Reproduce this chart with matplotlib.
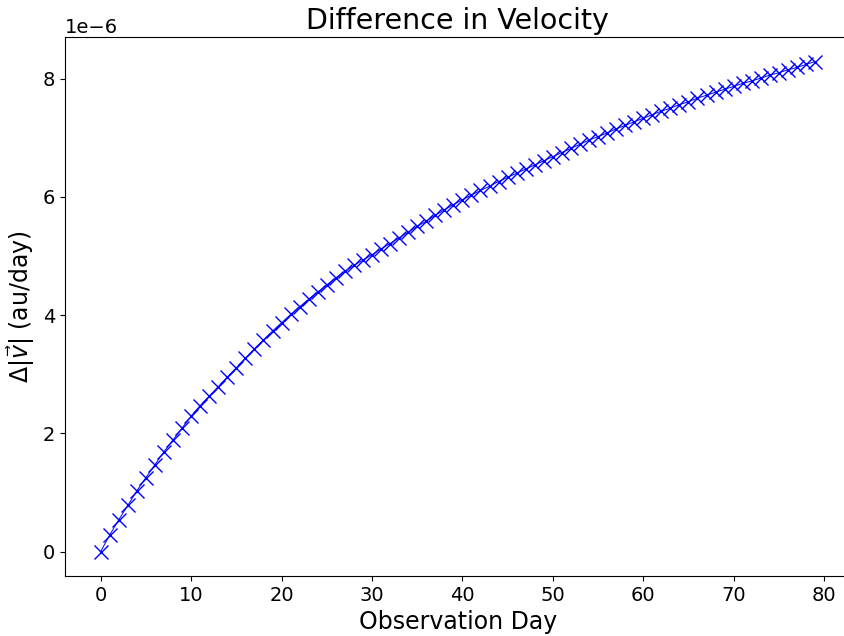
import matplotlib
matplotlib.use("Agg")
import matplotlib.pyplot as plt

# observation day index
days = list(range(80))

# |v| difference in units of 1e-6 au/day
dv = [0.00, 0.28, 0.54, 0.78, 1.03, 1.25, 1.47, 1.69, 1.89, 2.09,
      2.29, 2.47, 2.63, 2.79, 2.95, 3.11, 3.27, 3.43, 3.58, 3.73,
      3.87, 4.01, 4.14, 4.27, 4.39, 4.51, 4.63, 4.74, 4.84, 4.93,
      5.02, 5.12, 5.21, 5.31, 5.40, 5.50, 5.59, 5.69, 5.78, 5.87,
      5.95, 6.03, 6.11, 6.18, 6.26, 6.33, 6.40, 6.47, 6.54, 6.61,
      6.68, 6.75, 6.82, 6.89, 6.96, 7.02, 7.08, 7.15, 7.21, 7.27,
      7.33, 7.39, 7.45, 7.50, 7.56, 7.61, 7.67, 7.72, 7.77, 7.82,
      7.87, 7.92, 7.96, 8.01, 8.06, 8.10, 8.15, 8.19, 8.24, 8.29]
dv = [v * 1e-6 for v in dv]

fig = plt.figure(figsize=(8.44, 6.36), dpi=100)
ax = fig.add_axes([0.077, 0.0943, 0.931, 0.8475])

ax.plot(days, dv, marker="x", color="blue", markersize=10, linewidth=0.7)

ax.set_title("Difference in Velocity", fontsize=20.5)
ax.set_xlabel("Observation Day", fontsize=17)
ax.set_ylabel(r"$\Delta|\vec{v}|$ (au/day)", fontsize=17)
ax.tick_params(labelsize=14)
ax.yaxis.get_offset_text().set_fontsize(14)

fig.savefig("out.png", dpi=100)
